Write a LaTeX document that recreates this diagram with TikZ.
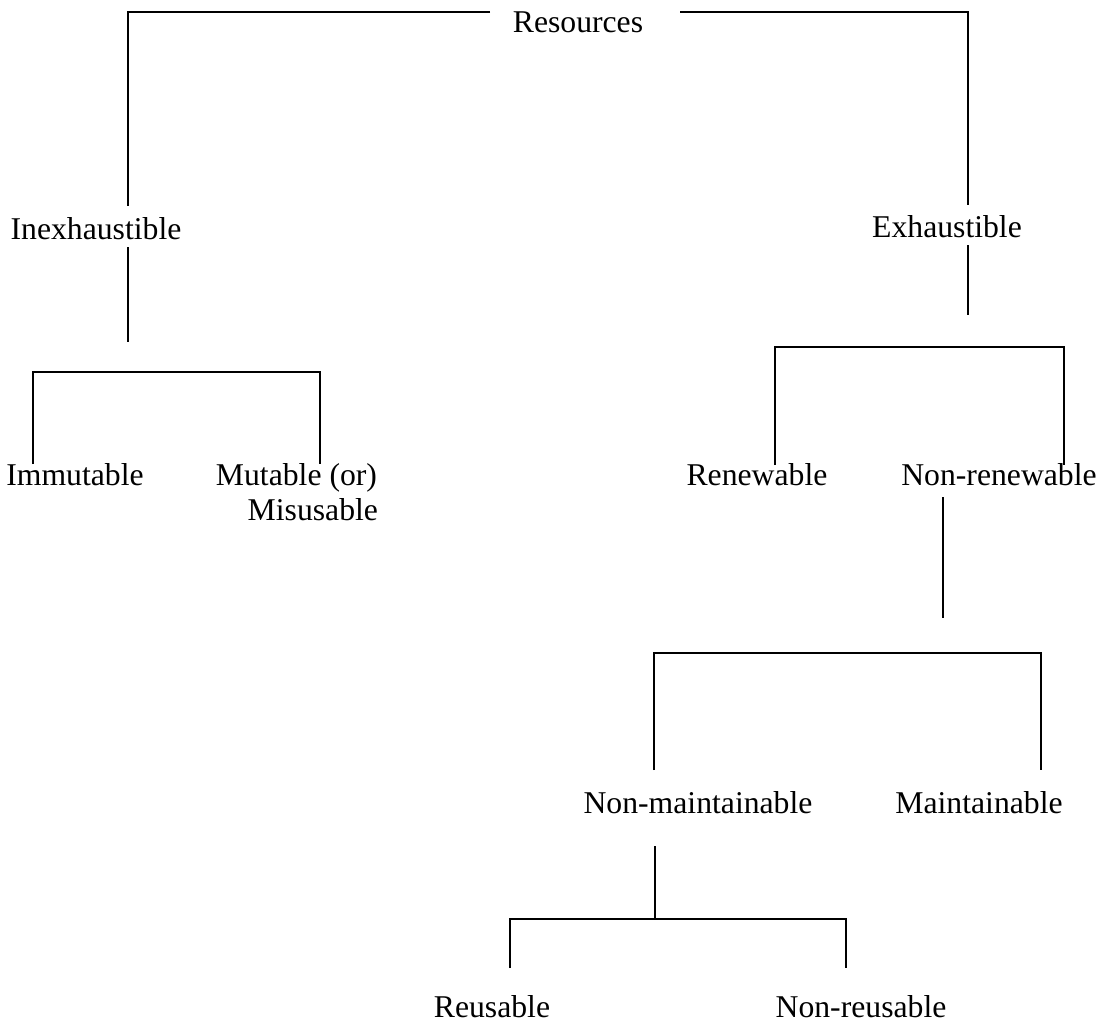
\documentclass[tikz,border=0pt]{standalone}
\usepackage{fontspec}
\setmainfont{Liberation Serif}
\begin{document}
\begin{tikzpicture}[x=1pt,y=-1pt,line width=2pt,
	lbl/.style={inner sep=0pt,anchor=base,font=\fontsize{31.7pt}{35pt}\selectfont}]
	\useasboundingbox (0,0) rectangle (1107,1023);
	% labels (x = centre, y = baseline)
	\node[lbl] (res) at (578,32) {Resources};
	\node[lbl] (inex) at (96,239) {Inexhaustible};
	\node[lbl] (exh) at (947,237) {Exhaustible};
	\node[lbl] (immut) at (75,485) {Immutable};
	\node[lbl,anchor=base east] (mut) at (378,485) {Mutable (or)};
	\node[lbl,anchor=base east] (mis) at (379,520) {Misusable};
	\node[lbl] (ren) at (757,485) {Renewable};
	\node[lbl] (nonren) at (999,485) {Non-renewable};
	\node[lbl] (nonmain) at (698,813) {Non-maintainable};
	\node[lbl] (main) at (979,813) {Maintainable};
	\node[lbl] (reus) at (492,1017) {Reusable};
	\node[lbl] (nonreus) at (861,1017) {Non-reusable};
	% line ends
	\coordinate (rl) at (490,12);
	\coordinate (rr) at (680,12);
	\coordinate (il) at (128,206);
	\coordinate (el) at (968,205);
	\coordinate (i1) at (128,247);
	\coordinate (i2) at (128,342);
	\coordinate (m1) at (33,464);
	\coordinate (mh) at (320,372);
	\coordinate (m2) at (320,464);
	\coordinate (e1) at (968,245);
	\coordinate (e2) at (968,315);
	\coordinate (r1) at (775,465);
	\coordinate (rh) at (1064,347);
	\coordinate (r2) at (1064,465);
	\coordinate (n1) at (943,497);
	\coordinate (n2) at (943,618);
	\coordinate (p1) at (654,770);
	\coordinate (ph) at (1041,653);
	\coordinate (p2) at (1041,770);
	\coordinate (q1) at (655,846);
	\coordinate (q2) at (655,919);
	\coordinate (s1) at (510,968);
	\coordinate (sh) at (846,919);
	\coordinate (s2) at (846,968);
	% top split
	\draw (rl) -| (il);
	\draw (rr) -| (el);
	% inexhaustible branch
	\draw (i1) -- (i2);
	\draw (m1) |- (mh) -- (m2);
	% exhaustible branch
	\draw (e1) -- (e2);
	\draw (r1) |- (rh) -- (r2);
	\draw (n1) -- (n2);
	\draw (p1) |- (ph) -- (p2);
	\draw (q1) -- (q2);
	\draw (s1) |- (sh) -- (s2);
\end{tikzpicture}
\end{document}
